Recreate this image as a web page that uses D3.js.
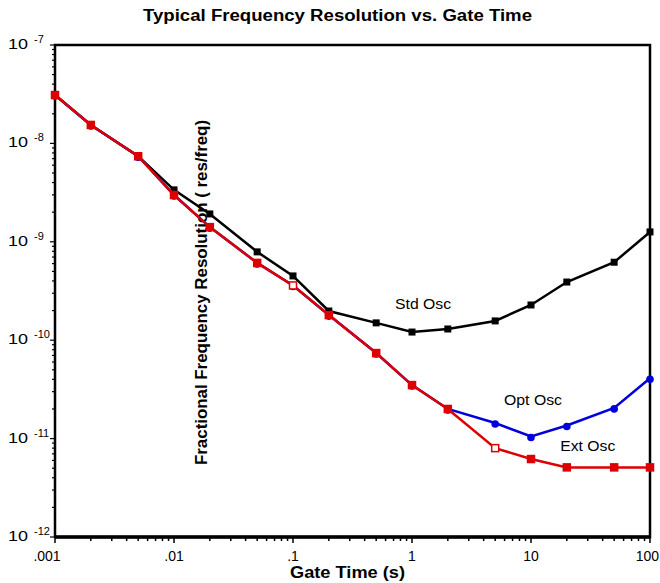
<!DOCTYPE html>
<html>
<head>
<meta charset="utf-8">
<script src="https://cdn.jsdelivr.net/npm/d3@7"></script>
<style>
  body { margin: 0; background: #fff; }
  text { font-family: "Liberation Sans", Arial, sans-serif; }
</style>
</head>
<body>
<svg id="chart" width="660" height="583"></svg>
<script>
var gateTimes = [0.001, 0.002, 0.005, 0.01, 0.02, 0.05, 0.1, 0.2, 0.5, 1, 2, 5, 10, 20, 50, 100];
var stdOsc = [3.1e-8, 1.54e-8, 7.4e-9, 3.37e-9, 1.92e-9, 7.9e-10, 4.5e-10, 1.98e-10, 1.5e-10, 1.21e-10, 1.3e-10, 1.57e-10, 2.28e-10, 3.9e-10, 6.2e-10, 1.26e-9];
var optOsc = [3.1e-8, 1.54e-8, 7.4e-9, 2.99e-9, 1.41e-9, 6.1e-10, 3.6e-10, 1.8e-10, 7.4e-11, 3.5e-11, 2.0e-11, 1.44e-11, 1.05e-11, 1.36e-11, 2.05e-11, 4.1e-11];
var extOsc = [3.1e-8, 1.54e-8, 7.4e-9, 2.99e-9, 1.41e-9, 6.1e-10, 3.6e-10, 1.8e-10, 7.4e-11, 3.5e-11, 2.0e-11, 8.0e-12, 6.2e-12, 5.1e-12, 5.1e-12, 5.1e-12];
var extHollow = [0.1, 5];
var xTickLabels = [".001", ".01", ".1", "1", "10", "100"];
var yExponents = [-7, -8, -9, -10, -11, -12];
var seriesLabels = [
  { name: "Std Osc", x: 1.24, y: 2.07e-10, w: 56 },
  { name: "Opt Osc", x: 10.4, y: 2.2e-11, w: 58 },
  { name: "Ext Osc", x: 30, y: 7.5e-12, w: 55 }
];

var svg = d3.select("#chart");
var plotLeft = 55, plotRight = 650, plotTop = 45, plotBottom = 537;

var x = d3.scaleLog().domain([0.001, 100]).range([plotLeft, plotRight]);
var y = d3.scaleLog().domain([1e-12, 1e-7]).range([plotBottom, plotTop]);

// title (the reference text is stretched sideways, so fix its length)
svg.append("text")
  .attr("x", 143).attr("y", 21)
  .attr("textLength", 389).attr("lengthAdjust", "spacingAndGlyphs")
  .style("font-size", "16px").style("font-weight", "bold")
  .text("Typical Frequency Resolution vs. Gate Time");

// minor/major ticks
var xTicks = [];
var yTicks = [];
for (var e = -3; e <= 2; e++) {
  for (var m = 1; m <= 9; m++) {
    var v = m * Math.pow(10, e);
    if (v <= 100 + 1e-9) xTicks.push({ v: v, major: m === 1 });
  }
}
for (var e2 = -12; e2 <= -7; e2++) {
  for (var m2 = 1; m2 <= 9; m2++) {
    var v2 = m2 * Math.pow(10, e2);
    if (v2 <= 1e-7 * 1.0001) yTicks.push({ v: v2, major: m2 === 1 });
  }
}

var axes = svg.append("g");
axes.selectAll(".xt").data(xTicks).enter().append("line")
  .attr("x1", function (d) { return x(d.v); })
  .attr("x2", function (d) { return x(d.v); })
  .attr("y1", plotBottom)
  .attr("y2", function (d) { return plotBottom + (d.major ? 6 : 4); })
  .attr("stroke", "#000").attr("stroke-width", 1.5);
axes.selectAll(".yt").data(yTicks).enter().append("line")
  .attr("y1", function (d) { return y(d.v); })
  .attr("y2", function (d) { return y(d.v); })
  .attr("x1", plotLeft)
  .attr("x2", function (d) { return plotLeft - (d.major ? 5 : 3); })
  .attr("stroke", "#000").attr("stroke-width", 1.2);

// x tick labels
var lastTick = xTickLabels.length - 1;
axes.selectAll(".xl").data(xTickLabels).enter().append("text")
  .attr("x", function (d, i) {
    if (i === 0) return x(Math.pow(10, i - 3)) - 8;
    if (i === lastTick) return 659;
    return x(Math.pow(10, i - 3));
  })
  .attr("y", 561)
  .attr("text-anchor", function (d, i) { return i === lastTick ? "end" : "middle"; })
  .style("font-size", "14px")
  .text(function (d) { return d; });

// y tick labels
axes.selectAll(".yl").data(yExponents).enter().append("text")
  .attr("x", 8)
  .attr("y", function (d) { return y(Math.pow(10, d)) + 4; })
  .attr("textLength", 20).attr("lengthAdjust", "spacingAndGlyphs")
  .style("font-size", "15px")
  .text("10");
axes.selectAll(".ye").data(yExponents).enter().append("text")
  .attr("x", 34)
  .attr("y", function (d) { return y(Math.pow(10, d)) - 2; })
  .style("font-size", "11px")
  .text(function (d) { return "-" + Math.abs(d); });

// axis titles
svg.append("text")
  .attr("x", 290).attr("y", 578)
  .attr("textLength", 115).attr("lengthAdjust", "spacingAndGlyphs")
  .style("font-size", "16px").style("font-weight", "bold")
  .text("Gate Time (s)");
svg.append("text")
  .attr("transform", "translate(207,465) rotate(-90)")
  .attr("textLength", 345).attr("lengthAdjust", "spacingAndGlyphs")
  .style("font-size", "16px").style("font-weight", "bold")
  .text("Fractional Frequency Resolution ( res/freq)");

// frame
svg.append("rect")
  .attr("x", plotLeft).attr("y", plotTop)
  .attr("width", plotRight - plotLeft).attr("height", plotBottom - plotTop)
  .attr("fill", "none").attr("stroke", "#000").attr("stroke-width", 2.5);
svg.append("line")
  .attr("x1", plotLeft).attr("x2", plotRight).attr("y1", plotBottom).attr("y2", plotBottom)
  .attr("stroke", "#000").attr("stroke-width", 3.5);

var line = d3.line()
  .x(function (d) { return x(d[0]); })
  .y(function (d) { return y(d[1]); });

function pairs(vals) {
  return gateTimes.map(function (t, i) { return [t, vals[i]]; });
}

var plot = svg.append("g");

// std
plot.append("path").attr("d", line(pairs(stdOsc)))
  .attr("fill", "none").attr("stroke", "#000").attr("stroke-width", 2.5);
plot.selectAll(".sm").data(pairs(stdOsc)).enter().append("rect")
  .attr("x", function (d) { return x(d[0]) - 3.5; })
  .attr("y", function (d) { return y(d[1]) - 3.5; })
  .attr("width", 7).attr("height", 7).attr("fill", "#000");

// opt
plot.append("path").attr("d", line(pairs(optOsc)))
  .attr("fill", "none").attr("stroke", "#0000dd").attr("stroke-width", 2.5);
plot.selectAll(".om").data(pairs(optOsc)).enter().append("circle")
  .attr("cx", function (d) { return x(d[0]); })
  .attr("cy", function (d) { return y(d[1]) + 1; })
  .attr("r", 3.8).attr("fill", "#0000dd");

// ext
plot.append("path").attr("d", line(pairs(extOsc)))
  .attr("fill", "none").attr("stroke", "#dd0000").attr("stroke-width", 2.5);
plot.selectAll(".em").data(pairs(extOsc)).enter().append("rect")
  .attr("x", function (d) { return x(d[0]) - 3.5; })
  .attr("y", function (d) { return y(d[1]) - 3.5; })
  .attr("width", 7).attr("height", 7)
  .attr("fill", function (d) { return extHollow.indexOf(d[0]) >= 0 ? "#fff" : "#dd0000"; })
  .attr("stroke", "#dd0000").attr("stroke-width", 1.5);

// series labels
svg.selectAll(".sl").data(seriesLabels).enter().append("text")
  .attr("x", function (d) { return x(d.x) - d.w / 2; })
  .attr("y", function (d) { return y(d.y); })
  .attr("textLength", function (d) { return d.w; })
  .attr("lengthAdjust", "spacingAndGlyphs")
  .style("font-size", "14px")
  .text(function (d) { return d.name; });
</script>
</body>
</html>
